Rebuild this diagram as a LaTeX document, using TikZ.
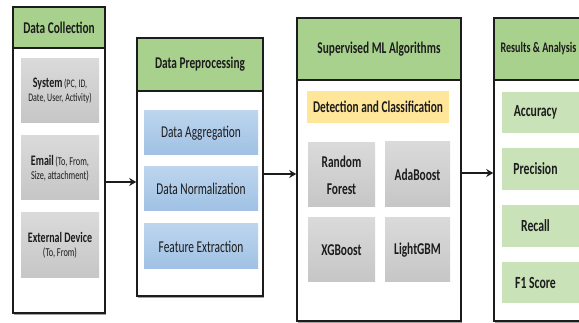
\documentclass[tikz,border=0pt]{standalone}
\usepackage{fontspec}
\setmainfont[FakeStretch=0.69]{Carlito}
\usetikzlibrary{arrows.meta,shadows}
\definecolor{hdrgreen}{HTML}{A9D18E}
\definecolor{resgreen}{HTML}{C9E2B8}
\definecolor{graytop}{HTML}{DADADA}
\definecolor{graybot}{HTML}{C6C6C6}
\definecolor{bluetop}{HTML}{BDD5EE}
\definecolor{bluebot}{HTML}{9FC1E4}
\definecolor{ylw}{HTML}{FFE699}
\definecolor{ink}{HTML}{1C1C1C}
\begin{document}
\begin{tikzpicture}[x=1pt,y=-1pt,
  stage/.style={draw=ink,line width=1.6pt,fill=white,rectangle,inner sep=0pt,
    drop shadow={shadow xshift=0.6pt,shadow yshift=-1.6pt,fill=black!45,opacity=0.8}},
  header/.style={draw=ink,line width=1.6pt,fill=hdrgreen,rectangle,inner sep=0pt,
    font=\bfseries\fontsize{16.4}{18}\selectfont,text=ink},
  graybox/.style={rectangle,inner sep=0pt,top color=graytop,bottom color=graybot,
    align=center,text=ink},
  bluebox/.style={rectangle,inner sep=0pt,top color=bluetop,bottom color=bluebot,
    align=center,text=ink,font=\fontsize{16.5}{18}\selectfont},
  algbox/.style={graybox,font=\bfseries\fontsize{16.5}{27}\selectfont},
  resbox/.style={rectangle,inner sep=0pt,fill=resgreen,align=center,text=ink,
    font=\bfseries\fontsize{17}{19}\selectfont},
  arr/.style={draw=ink,line width=2pt,-{Stealth[length=7pt,width=8pt]}},
]
\useasboundingbox (0,0) rectangle (579,323);
\begin{scope}
\clip (0,0) rectangle (579,323);

% Stage 1: data collection
\node[stage,minimum width=92pt,minimum height=306pt] (b1) at (59,160) {};
\node[header,minimum width=92pt,minimum height=41pt] (h1) at (59,27.5) {Data Collection};
\node[graybox,minimum width=78pt,minimum height=64pt] (sys) at (60,91)
  {{\bfseries\fontsize{14.5}{18}\selectfont System} {\fontsize{11.5}{18}\selectfont(PC, ID,}\\[2pt]
   {\fontsize{11.5}{14}\selectfont Date, User, Activity)}};
\node[graybox,minimum width=78pt,minimum height=64pt] (mail) at (60,168)
  {{\bfseries\fontsize{14.5}{18}\selectfont Email} {\fontsize{12}{18}\selectfont(To, From,}\\[2pt]
   {\fontsize{12}{14}\selectfont Size, attachment)}};
\node[graybox,minimum width=78pt,minimum height=65pt] (ext) at (60,245.5)
  {{\bfseries\fontsize{14.5}{18}\selectfont External Device}\\[2pt]
   {\fontsize{12}{14}\selectfont(To, From)}};

% Stage 2: preprocessing
\node[stage,minimum width=126pt,minimum height=258pt] (b2) at (200,167) {};
\node[header,minimum width=126pt,minimum height=53pt] (h2) at (200,64.5) {Data Preprocessing};
\node[bluebox,minimum width=114pt,minimum height=44pt] (agg) at (201,133) {Data Aggregation};
\node[bluebox,minimum width=114pt,minimum height=44pt] (norm) at (201,189) {Data Normalization};
\node[bluebox,minimum width=114pt,minimum height=45pt] (feat) at (201,246.5) {Feature Extraction};

% Stage 3: supervised learning
\node[stage,minimum width=164pt,minimum height=303pt] (b3) at (379,169.5) {};
\node[header,minimum width=164pt,minimum height=62pt] (h3) at (379,49) {Supervised ML Algorithms};
\node[rectangle,fill=ylw,minimum width=142pt,minimum height=32pt,text=ink,
  font=\bfseries\fontsize{16.4}{18}\selectfont] (det) at (378,107) {Detection and Classification};
\node[algbox,minimum width=67pt,minimum height=64pt] (rf) at (341.5,175) {Random\\Forest};
\node[algbox,minimum width=65pt,minimum height=65pt] (ada) at (417.5,174.5) {AdaBoost};
\node[algbox,minimum width=67pt,minimum height=64pt] (xgb) at (341.5,250) {XGBoost};
\node[algbox,minimum width=65pt,minimum height=64pt] (lgb) at (417.5,250) {LightGBM};

% Stage 4: evaluation
\node[stage,minimum width=96pt,minimum height=303pt] (b4) at (542,169.5) {};
\node[header,minimum width=96pt,minimum height=62pt,
  font=\bfseries\fontsize{14.6}{16}\selectfont] (h4) at (542,49) {Results \& Analysis\hspace*{7pt}};
\node[resbox,minimum width=80pt,minimum height=41pt] (acc) at (542,112.5) {Accuracy\hspace*{13pt}};
\node[resbox,minimum width=80pt,minimum height=42pt] (prec) at (542,169) {Precision\hspace*{13pt}};
\node[resbox,minimum width=80pt,minimum height=42pt] (rec) at (542,226) {Recall\hspace*{13pt}};
\node[resbox,minimum width=80pt,minimum height=41pt] (f1) at (542,282.5) {F1 Score\hspace*{13pt}};
\end{scope}

% Flow between stages
\draw[arr] ([yshift=-22pt]b1.east) -- ([yshift=-15pt]b2.west);
\draw[arr] ([yshift=-7pt]b2.east) -- ([yshift=-4.5pt]b3.west);
\draw[arr] ([yshift=-3.5pt]b3.east) -- ([yshift=-3.5pt]b4.west);
\end{tikzpicture}
\end{document}
